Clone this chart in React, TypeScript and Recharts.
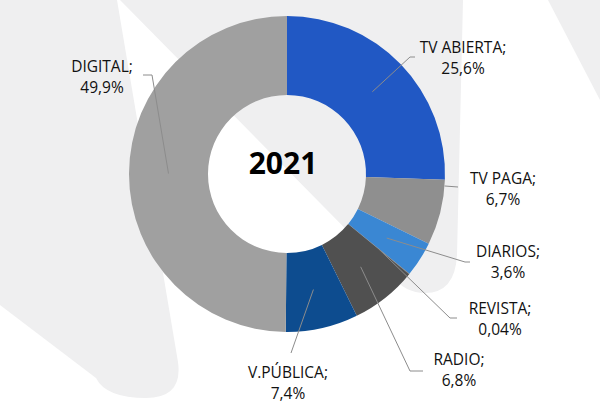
import { PieChart, Pie, Cell } from "recharts";

// ─── Data ─────────────────────────────────────────────────────────────────────

const categories = ["TV ABIERTA", "TV PAGA", "DIARIOS", "REVISTA", "RADIO", "V.PÚBLICA", "DIGITAL"];
const shares = [25.6, 6.7, 3.6, 0.04, 6.8, 7.4, 49.9];
const sliceColors = ["#2158C4", "#8F8F8F", "#3A87D3", "#6E6E6E", "#505050", "#0D4C8F", "#A0A0A0"];
const yearTitle = "2021";

const chartData = categories.map((name, i) => ({ name, value: shares[i] }));

// ─── Layout ───────────────────────────────────────────────────────────────────

const PIE_CX = 282;
const PIE_CY = 169;

// Label offsets from the pie centre.
// x,y: centre of the two-line label; ax,ay: where the leader meets the label;
// ex: optional elbow x; edge: leader starts on the outer rim instead of mid-ring
type LabelSpot = { x: number; y: number; ax: number; ay: number; ex?: number; edge?: boolean };

const labelSpots: LabelSpot[] = [
  { x: 176, y: -116, ax: 128, ay: -117, ex: 123 },
  { x: 216, y: 15, ax: 171, ay: 13, edge: true },
  { x: 221, y: 88, ax: 183, ay: 88, ex: 178 },
  { x: 213, y: 145, ax: 170, ay: 144, ex: 163 },
  { x: 172, y: 196, ax: 136, ay: 197, ex: 123 },
  { x: 1, y: 209, ax: 4, ay: 179 },
  { x: -185, y: -97, ax: -144, ay: -99, ex: -135 },
];

const FONT = "'Open Sans', 'DejaVu Sans', sans-serif";
const RAD = Math.PI / 180;

function fmtShare(v: number): string {
  return String(v).replace(".", ",") + "%";
}

// ─── Custom label with leader line ────────────────────────────────────────────

// eslint-disable-next-line @typescript-eslint/no-explicit-any
function SliceLabel(props: any) {
  const { cx, cy, midAngle, innerRadius, outerRadius, index } = props;
  const spot = labelSpots[index];
  if (!spot) return null;

  const ax = cx + spot.ax;
  const ay = cy + spot.ay;
  let sx: number;
  let sy: number;
  if (spot.edge) {
    const a = Math.atan2(ay - cy, ax - cx);
    sx = cx + outerRadius * Math.cos(a);
    sy = cy + outerRadius * Math.sin(a);
  } else {
    const r = (innerRadius + outerRadius) / 2;
    sx = cx + r * Math.cos(-midAngle * RAD);
    sy = cy + r * Math.sin(-midAngle * RAD);
  }
  const pts: number[][] = [[sx, sy]];
  if (spot.ex !== undefined) pts.push([cx + spot.ex, ay]);
  pts.push([ax, ay]);

  const lx = cx + spot.x;
  const ly = cy + spot.y;
  return (
    <g>
      <polyline
        points={pts.map((p) => p.join(",")).join(" ")}
        fill="none"
        stroke="#8C8C8C"
        strokeWidth={1}
      />
      <text textAnchor="middle" fontFamily={FONT} fontSize={15.5} fill="#111111">
        <tspan x={lx} y={ly - 5}>
          {categories[index]};
        </tspan>
        <tspan x={lx} y={ly + 16}>
          {fmtShare(shares[index])}
        </tspan>
      </text>
    </g>
  );
}

// ─── Component ────────────────────────────────────────────────────────────────

export default function App() {
  return (
    <div
      style={{
        position: "absolute",
        left: 0,
        top: 0,
        width: 600,
        height: 406,
        background: "#FFFFFF",
        overflow: "hidden",
      }}
    >
      {/* faint watermark shapes behind the chart */}
      <svg width={600} height={406} style={{ position: "absolute", left: 0, top: 0 }}>
        <path d="M0,0 L117,0 L178,362 Q183,398 146,398 Q106,398 96,378 L0,305 Z" fill="#EFEFF0" />
        <path d="M120,0 L463,0 L457,255 Q455,293 425,293 Q405,293 392,276 Z" fill="#EFEFF0" />
        <path d="M548,0 L600,0 L600,100 Z" fill="#EFEFF0" />
      </svg>

      <div style={{ position: "absolute", left: 0, top: 0 }}>
        <PieChart width={600} height={406}>
          <Pie
            data={chartData}
            dataKey="value"
            nameKey="name"
            cx={PIE_CX}
            cy={PIE_CY}
            innerRadius={79}
            outerRadius={158}
            startAngle={90}
            endAngle={-270}
            stroke="none"
            label={SliceLabel}
            labelLine={false}
            isAnimationActive={false}
          >
            {chartData.map((d, i) => (
              <Cell key={d.name} fill={sliceColors[i]} stroke="none" />
            ))}
          </Pie>
        </PieChart>
      </div>

      {/* year in the hole */}
      <svg
        width={600}
        height={406}
        style={{ position: "absolute", left: 0, top: 0, pointerEvents: "none" }}
      >
        <text
          x={PIE_CX + 1}
          y={PIE_CY + 5}
          textAnchor="middle"
          fontFamily={FONT}
          fontWeight={700}
          fontSize={30}
          fill="#000000"
        >
          {yearTitle}
        </text>
      </svg>
    </div>
  );
}
